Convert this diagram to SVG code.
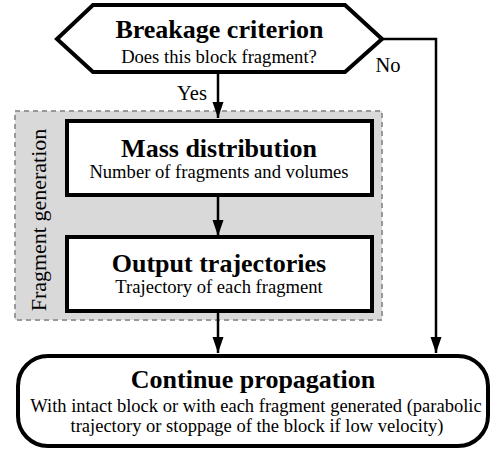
<svg xmlns="http://www.w3.org/2000/svg" width="491" height="452" viewBox="0 0 491 452">
<style>
text{font-family:'Liberation Serif','Times New Roman',serif;fill:#000}
.t{font-weight:bold;font-size:26px;text-anchor:middle}
.s{font-size:18.6px;text-anchor:middle}
.lbl{font-size:20.5px;text-anchor:middle}
.box{fill:#fff;stroke:#000;stroke-width:4}
.ln{fill:none;stroke:#000;stroke-width:2.5}
</style>
<defs>
<marker id="ah" markerWidth="16" markerHeight="12" refX="16" refY="6" orient="auto" markerUnits="userSpaceOnUse">
<path d="M0,0.5 L16,6 L0,11.5 Z" fill="#000"/>
</marker>
</defs>
<g id="group-fragment-generation">
<rect x="15" y="111" width="367" height="209" fill="#d9d9d9" stroke="#999" stroke-width="2" stroke-dasharray="5,4"/>
<text transform="translate(46,220) rotate(-90)" style="font-size:22px;text-anchor:middle">Fragment generation</text>
</g>
<g id="connectors">
<line class="ln" x1="218" y1="72" x2="218" y2="118" marker-end="url(#ah)"/>
<text class="lbl" x="192" y="100">Yes</text>
<line class="ln" x1="218" y1="195" x2="218" y2="236" marker-end="url(#ah)"/>
<line class="ln" x1="218" y1="311" x2="218" y2="353" marker-end="url(#ah)"/>
<polyline class="ln" points="382,39 436,39 436,353" marker-end="url(#ah)"/>
<text class="lbl" x="388" y="72">No</text>
</g>
<g id="breakage-criterion">
<polygon class="box" points="93,5 345,5 382,39 345,72 93,72 57,39"/>
<text class="t" x="219.5" y="38">Breakage criterion</text>
<text class="s" x="219" y="63">Does this block fragment?</text>
</g>
<g id="mass-distribution">
<rect class="box" x="67" y="121" width="305" height="74"/>
<text class="t" x="219" y="156.5">Mass distribution</text>
<text class="s" x="219" y="178">Number of fragments and volumes</text>
</g>
<g id="output-trajectories">
<rect class="box" x="67" y="237" width="305" height="74"/>
<text class="t" x="219" y="271.5">Output trajectories</text>
<text class="s" x="219" y="293">Trajectory of each fragment</text>
</g>
<g id="continue-propagation">
<rect class="box" x="18" y="356" width="470" height="90" rx="30" ry="30"/>
<text class="t" x="253" y="388">Continue propagation</text>
<text class="s" x="256" y="411.5" style="font-size:18.5px">With intact block or with each fragment generated (parabolic</text>
<text class="s" x="257" y="431.5" style="font-size:18.5px">trajectory or stoppage of the block if low velocity)</text>
</g>
</svg>
